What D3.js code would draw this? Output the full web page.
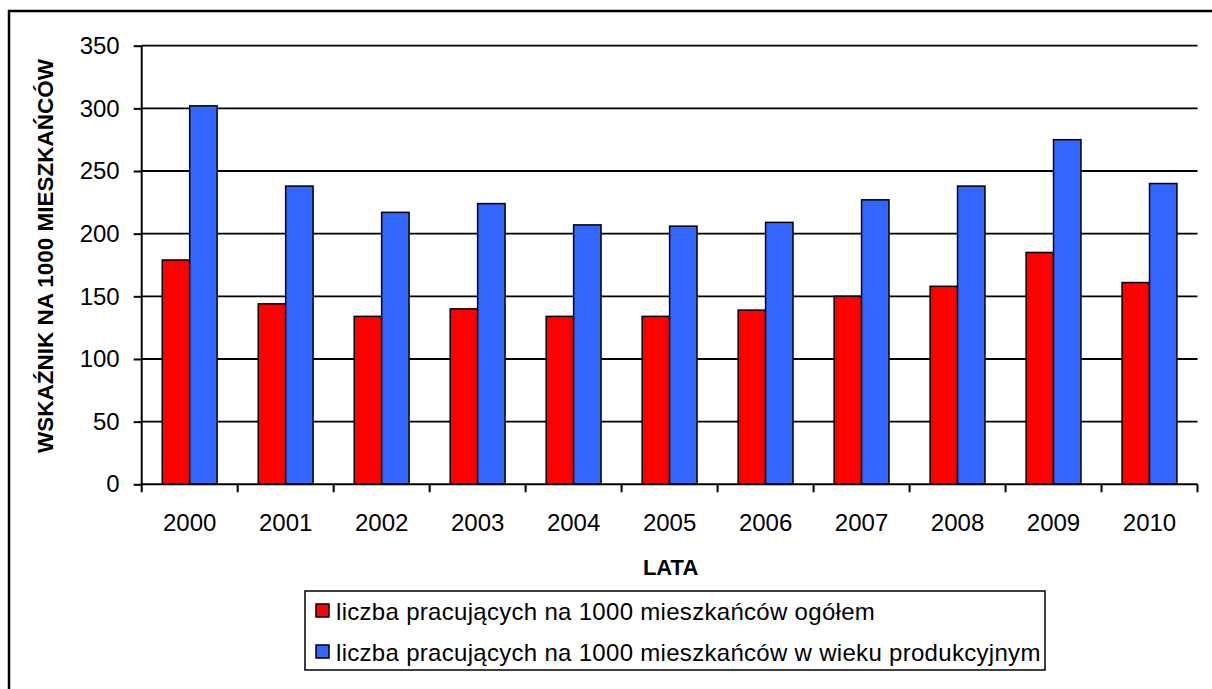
<!DOCTYPE html>
<html>
<head>
<meta charset="utf-8">
<script src="https://cdn.jsdelivr.net/npm/d3@7"></script>
<style>
  html, body { margin: 0; padding: 0; background: #fff; }
  svg { display: block; font-family: "Liberation Sans", Arial, sans-serif; }
</style>
</head>
<body>
<svg id="chart" width="1212" height="689"></svg>
<script>
// Years on the category axis
const years = ["2000","2001","2002","2003","2004","2005","2006","2007","2008","2009","2010"];
// Employed per 1000 inhabitants, total
const ogolem = [179, 144, 134, 140, 134, 134, 139, 150, 158, 185, 161];
// Employed per 1000 inhabitants of working age
const produkcyjny = [302, 238, 217, 224, 207, 206, 209, 227, 238, 275, 240];
const seriesNames = [
  "liczba pracujących na 1000 mieszkańców ogółem",
  "liczba pracujących na 1000 mieszkańców w wieku produkcyjnym"
];
const seriesColors = ["#FF0000", "#3366FF"];
const yTicks = [0, 50, 100, 150, 200, 250, 300, 350];

const svg = d3.select("#chart");

// outer chart frame (right and bottom edges fall outside the canvas)
svg.append("rect")
  .attr("x", 9).attr("y", 11)
  .attr("width", 1230).attr("height", 700)
  .attr("fill", "#fff").attr("stroke", "#000").attr("stroke-width", 2.5);

const plotLeft = 141.7, plotRight = 1197.5, plotTop = 45.7, plotBottom = 484.3;

const x0 = d3.scaleBand().domain(years).range([plotLeft, plotRight]).padding(0);
const x1 = d3.scaleBand().domain([0, 1]).range([0, x0.bandwidth()])
  .paddingInner(0).paddingOuter(0.75);
const y = d3.scaleLinear().domain([0, 350]).range([plotBottom, plotTop]);

// horizontal gridlines
svg.append("g").selectAll("line")
  .data(yTicks.filter(d => d > 0))
  .join("line")
  .attr("x1", plotLeft).attr("x2", plotRight)
  .attr("y1", d => y(d)).attr("y2", d => y(d))
  .attr("stroke", "#000").attr("stroke-width", 1.8);

// bars
const data = years.map((yr, i) => ({ yr, vals: [ogolem[i], produkcyjny[i]] }));
const groups = svg.append("g").selectAll("g")
  .data(data).join("g")
  .attr("transform", d => `translate(${x0(d.yr)},0)`);
groups.selectAll("rect")
  .data(d => d.vals.map((v, k) => ({ v, k })))
  .join("rect")
  .attr("x", d => x1(d.k))
  .attr("width", x1.bandwidth())
  .attr("y", d => y(d.v))
  .attr("height", d => y(0) - y(d.v))
  .attr("fill", d => seriesColors[d.k])
  .attr("stroke", "#000").attr("stroke-width", 1.5);

// y axis
const yAxis = d3.axisLeft(y).tickValues(yTicks).tickSize(8).tickPadding(14)
  .tickFormat(d3.format("d"));
const gy = svg.append("g").attr("transform", `translate(${plotLeft},0)`).call(yAxis);
gy.select(".domain").attr("stroke", "#000").attr("stroke-width", 2).attr("d", `M0,${plotTop}V${plotBottom}`);
gy.selectAll(".tick line").attr("stroke", "#000").attr("stroke-width", 2);
gy.selectAll(".tick text").attr("font-size", 24).attr("fill", "#000")
  .attr("font-family", "Liberation Sans, Arial, sans-serif");

// x axis: ticks sit on the category boundaries
const gx = svg.append("g").attr("transform", `translate(0,${plotBottom})`);
gx.append("line").attr("x1", plotLeft).attr("x2", plotRight).attr("y1", 0).attr("y2", 0)
  .attr("stroke", "#000").attr("stroke-width", 2);
const boundaries = years.map(d => x0(d)).concat([x0(years[years.length - 1]) + x0.bandwidth()]);
gx.selectAll("line.tk").data(boundaries).join("line").attr("class", "tk")
  .attr("x1", d => d).attr("x2", d => d).attr("y1", 0).attr("y2", 8)
  .attr("stroke", "#000").attr("stroke-width", 2);
gx.selectAll("text").data(years).join("text")
  .attr("x", d => x0(d) + x0.bandwidth() / 2)
  .attr("y", 47)
  .attr("text-anchor", "middle")
  .attr("font-size", 24).attr("fill", "#000")
  .text(d => d);

// axis titles
svg.append("text")
  .attr("x", (plotLeft + plotRight) / 2 + 1).attr("y", 575)
  .attr("text-anchor", "middle").attr("font-weight", "bold").attr("font-size", 22)
  .text("LATA");
svg.append("text")
  .attr("transform", `translate(53,256) rotate(-90)`)
  .attr("text-anchor", "middle").attr("font-weight", "bold").attr("font-size", 22.5)
  .text("WSKAŹNIK NA 1000 MIESZKAŃCÓW");

// legend
const legend = svg.append("g");
legend.append("rect")
  .attr("x", 305).attr("y", 591).attr("width", 740).attr("height", 79)
  .attr("fill", "#fff").attr("stroke", "#000").attr("stroke-width", 1.5);
const rows = legend.selectAll("g.row").data(seriesNames).join("g").attr("class", "row")
  .attr("transform", (d, i) => `translate(316,${611 + i * 41})`);
rows.append("rect")
  .attr("x", 0).attr("y", -7).attr("width", 13).attr("height", 13)
  .attr("fill", (d, i) => seriesColors[i]).attr("stroke", "#000").attr("stroke-width", 1.5);
rows.append("text")
  .attr("x", 20).attr("y", 8.5)
  .attr("font-size", 24).attr("letter-spacing", 0.3).attr("fill", "#000")
  .text(d => d);
</script>
</body>
</html>
